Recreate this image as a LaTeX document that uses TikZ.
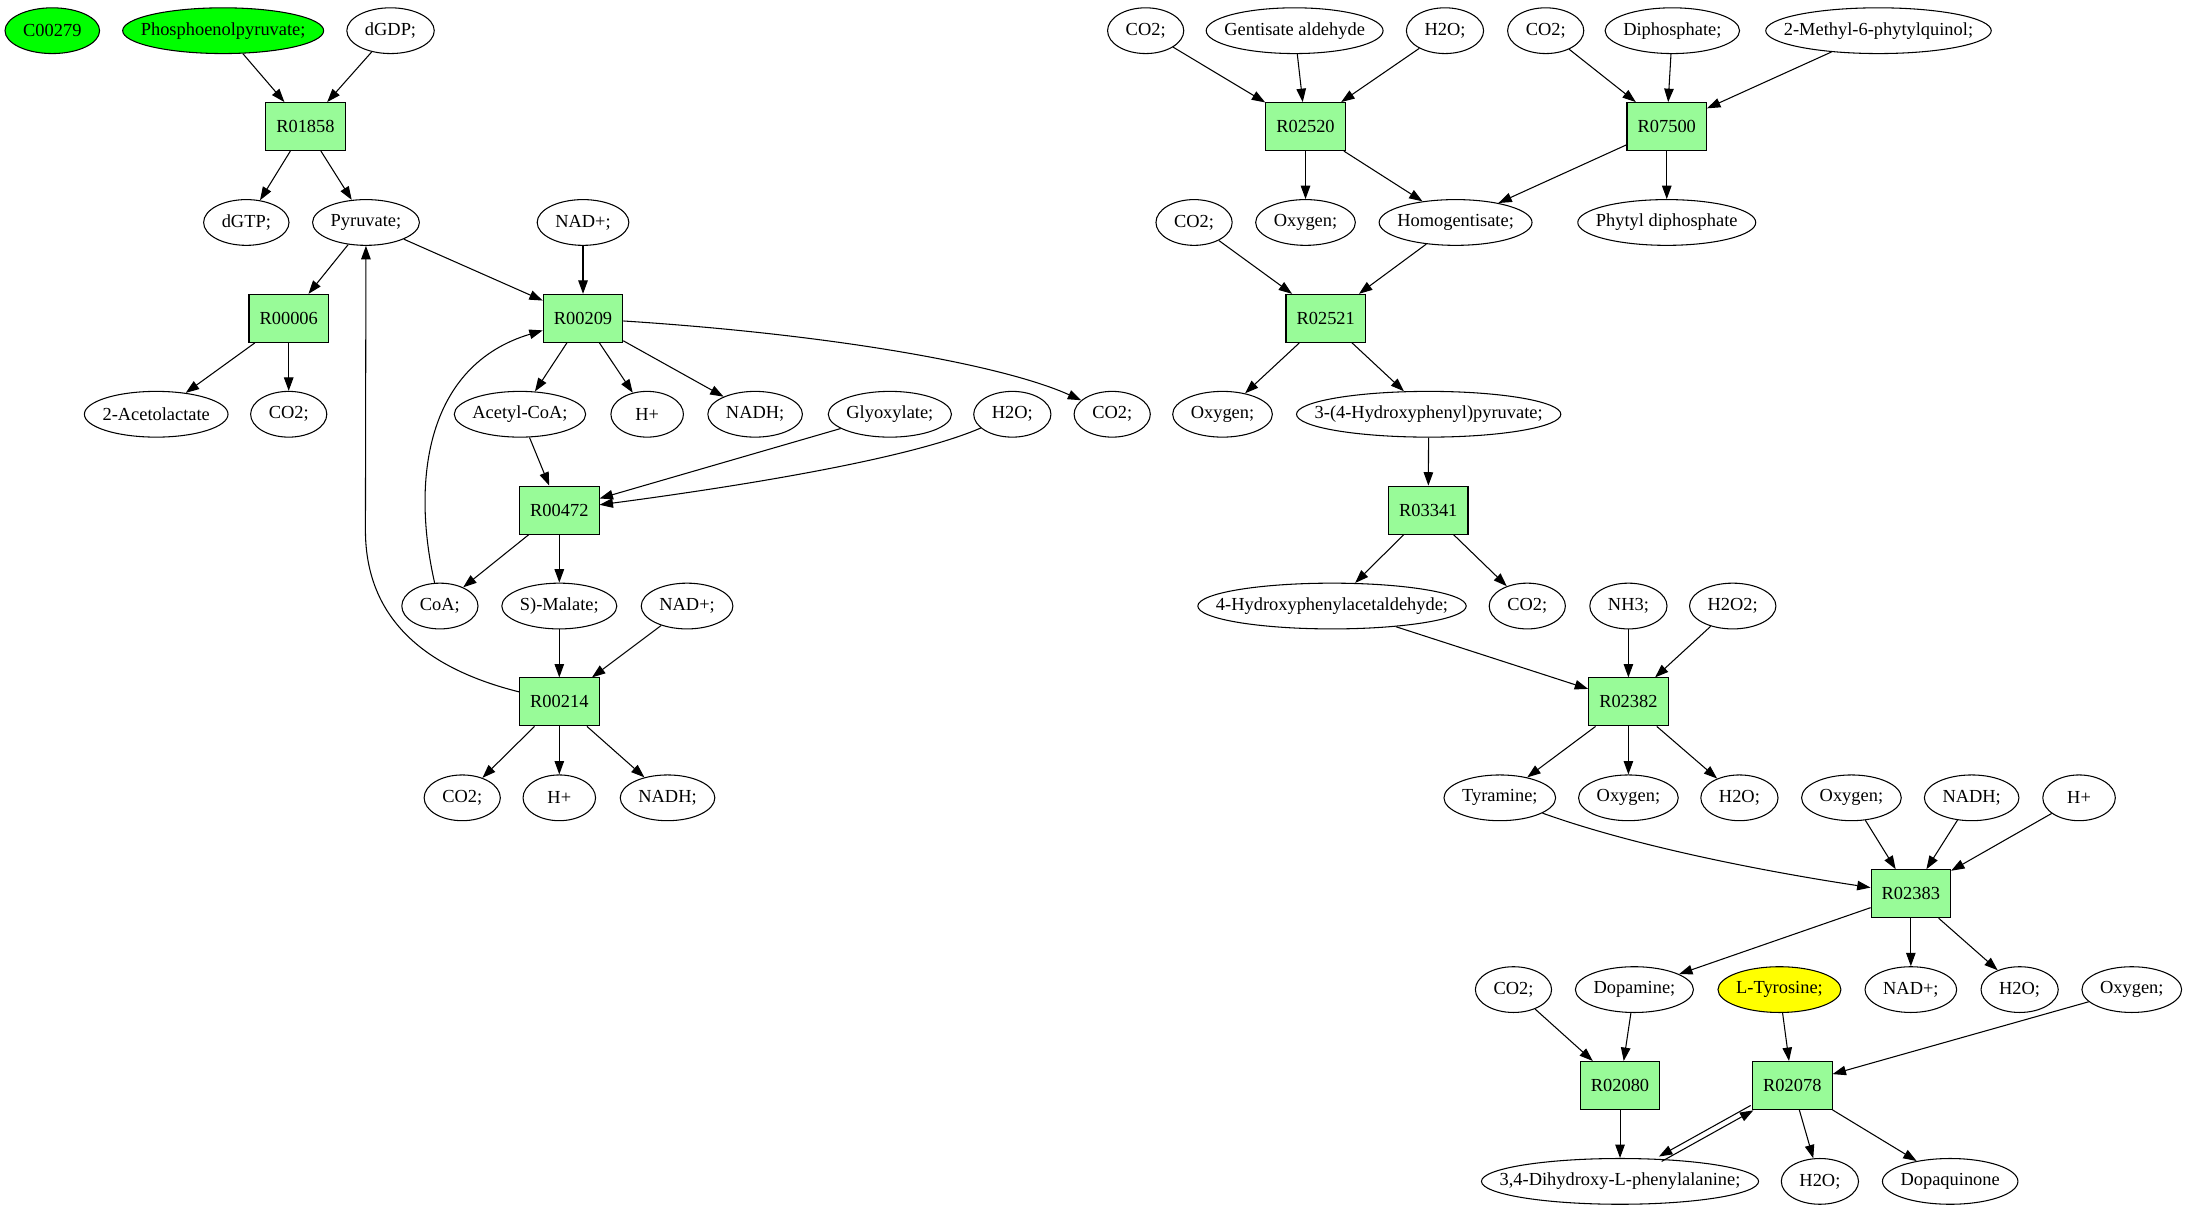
\documentclass[tikz,border=0pt]{standalone}
\usepackage{fontspec}
\setmainfont{Liberation Serif}
\usetikzlibrary{arrows.meta,positioning,shapes.geometric}

\definecolor{rxnfill}{HTML}{98FB98}
\definecolor{seedfill}{HTML}{00FF00}
\definecolor{goalfill}{HTML}{FFFF00}

\newsavebox{\cpdbox}
\newlength{\cpdwd}

\begin{document}
\begin{tikzpicture}[x=0.5pt,y=-0.5pt,node distance=34.375pt,on grid,
		font=\fontsize{6.6}{7.9}\selectfont,line width=0.38pt,
		>={Triangle[length=4.8pt,width=3.4pt]},
		rxn/.style={draw,rectangle,fill=rxnfill,minimum width=28.5pt,minimum height=17.2pt,inner sep=0pt},
		cpd/.style={draw,ellipse,minimum width=26pt,minimum height=16.4pt,inner sep=0pt,
			execute at begin node={\begin{lrbox}{\cpdbox}},
			execute at end node={\end{lrbox}\cpdwd=\wd\cpdbox\makebox[\dimexpr0.7071\cpdwd+9.2pt\relax]{\usebox{\cpdbox}}}},
		seed/.style={cpd,fill=seedfill},
		goal/.style={cpd,fill=goalfill}]
		\useasboundingbox (0,0) rectangle (1568,868);
		
		% reactions
		\node[rxn] (r01858) at (219,90.75) {R01858};
		\node[rxn] (r00006) at (207,228.25) {R00006};
		\node[rxn] (r00209) at (418,228.25) {R00209};
		\node[rxn] (r00472) at (401,365.75) {R00472};
		\node[rxn] (r00214) at (401,503.25) {R00214};
		\node[rxn] (r02520) at (936,90.75) {R02520};
		\node[rxn] (r07500) at (1195,90.75) {R07500};
		\node[rxn] (r02521) at (950.5,228.25) {R02521};
		\node[rxn] (r03341) at (1024,365.75) {R03341};
		\node[rxn] (r02382) at (1167.5,503.25) {R02382};
		\node[rxn] (r02383) at (1370,640.75) {R02383};
		\node[rxn] (r02080) at (1161.5,778.25) {R02080};
		\node[rxn] (r02078) at (1285,778.25) {R02078};
		
		% left part
		\node[seed] (phos) [above=of r01858, xshift=-29.5pt] {Phosphoenolpyruvate;};
		\node[seed] (c00279) [left=61.25pt of phos] {C00279};
		\node[cpd] (dgdp) [above=of r01858, xshift=30.5pt] {dGDP;};
		\node[cpd] (dgtp) [below=of r01858, xshift=-21.2pt] {dGTP;};
		\node[cpd] (pyr) [below=of r01858, xshift=21.7pt] {Pyruvate;};
		\node[cpd] (acetol) [below=of r00006, xshift=-47.5pt] {2-Acetolactate};
		\node[cpd] (co2a) [below=of r00006] {CO2;};
		\node[cpd] (nad1) [above=of r00209] {NAD+;};
		\node[cpd] (acoa) [below=of r00209, xshift=-22.6pt] {Acetyl-CoA;};
		\node[cpd] (hp1) [below=of r00209, xshift=23pt] {H+};
		\node[cpd] (nadh1) [below=of r00209, xshift=61.7pt] {NADH;};
		\node[cpd] (co2b) [below=of r00209, xshift=189.7pt] {CO2;};
		\node[cpd] (glyox) [above=of r00472, xshift=118.5pt] {Glyoxylate;};
		\node[cpd] (h2oa) [above=of r00472, xshift=162.4pt] {H2O;};
		\node[cpd] (coa) [below=of r00472, xshift=-42.8pt] {CoA;};
		\node[cpd] (malate) [below=of r00472] {S)-Malate;};
		\node[cpd] (nad2) [above=of r00214, xshift=45.8pt] {NAD+;};
		\node[cpd] (co2c) [below=of r00214, xshift=-34.8pt] {CO2;};
		\node[cpd] (hp2) [below=of r00214] {H+};
		\node[cpd] (nadh2) [below=of r00214, xshift=38.8pt] {NADH;};
		
		% right part
		\node[cpd] (co2d) [above=of r02520, xshift=-57.3pt] {CO2;};
		\node[cpd] (gent) [above=of r02520, xshift=-3.9pt] {Gentisate aldehyde};
		\node[cpd] (h2ob) [above=of r02520, xshift=50pt] {H2O;};
		\node[cpd] (oxy1) [below=of r02520] {Oxygen;};
		\node[cpd] (homog) [below=of r02520, xshift=53.8pt] {Homogentisate;};
		\node[cpd] (co2e) [above=of r07500, xshift=-43.4pt] {CO2;};
		\node[cpd] (diph) [above=of r07500, xshift=2pt] {Diphosphate;};
		\node[cpd] (methyl) [above=of r07500, xshift=75.9pt] {2-Methyl-6-phytylquinol;};
		\node[cpd] (phytyl) [below=of r07500] {Phytyl diphosphate};
		\node[cpd] (co2f) [above=of r02521, xshift=-47.2pt] {CO2;};
		\node[cpd] (oxy2) [below=of r02521, xshift=-37pt] {Oxygen;};
		\node[cpd] (hpp) [below=of r02521, xshift=36.9pt] {3-(4-Hydroxyphenyl)pyruvate;};
		\node[cpd] (hpa) [below=of r03341, xshift=-34.5pt] {4-Hydroxyphenylacetaldehyde;};
		\node[cpd] (co2g) [below=of r03341, xshift=35.5pt] {CO2;};
		\node[cpd] (nh3) [above=of r02382] {NH3;};
		\node[cpd] (h2o2) [above=of r02382, xshift=37.4pt] {H2O2;};
		\node[cpd] (tyr) [below=of r02382, xshift=-46.1pt] {Tyramine;};
		\node[cpd] (oxy3) [below=of r02382] {Oxygen;};
		\node[cpd] (h2oc) [below=of r02382, xshift=39.8pt] {H2O;};
		\node[cpd] (oxy4) [above=of r02383, xshift=-21.3pt] {Oxygen;};
		\node[cpd] (nadh3) [above=of r02383, xshift=21.8pt] {NADH;};
		\node[cpd] (hp3) [above=of r02383, xshift=60.3pt] {H+};
		\node[cpd] (dopamine) [below=of r02383, xshift=-99.1pt] {Dopamine;};
		\node[cpd] (nad3) [below=of r02383] {NAD+;};
		\node[cpd] (h2od) [below=of r02383, xshift=39pt] {H2O;};
		\node[cpd] (co2h) [above=of r02080, xshift=-38.2pt] {CO2;};
		\node[cpd] (dopa) [below=of r02080] {3,4-Dihydroxy-L-phenylalanine;};
		\node[goal] (ltyr) [above=of r02078, xshift=-4.6pt] {L-Tyrosine;};
		\node[cpd] (oxy5) [above=of r02078, xshift=121.7pt] {Oxygen;};
		\node[cpd] (h2oe) [below=of r02078, xshift=9.9pt] {H2O;};
		\node[cpd] (dopaq) [below=of r02078, xshift=56.6pt] {Dopaquinone};
		
		\path[->]
		(phos) edge (r01858)
		(dgdp) edge (r01858)
		(r01858) edge (dgtp)
			 edge (pyr)
		(pyr) edge (r00006)
			 edge (r00209)
		(r00006) edge (acetol)
			 edge (co2a)
		(nad1) edge (r00209)
		(r00209) edge (acoa)
			 edge (hp1)
			 edge (nadh1)
		(acoa) edge (r00472)
		(glyox) edge (r00472)
		(r00472) edge (coa)
			 edge (malate)
		(malate) edge (r00214)
		(nad2) edge (r00214)
		(r00214) edge (co2c)
			 edge (hp2)
			 edge (nadh2)
		
		(co2d) edge (r02520)
		(gent) edge (r02520)
		(h2ob) edge (r02520)
		(r02520) edge (oxy1)
			 edge (homog)
		(co2e) edge (r07500)
		(diph) edge (r07500)
		(methyl) edge (r07500)
		(r07500) edge (homog)
			 edge (phytyl)
		(co2f) edge (r02521)
		(homog) edge (r02521)
		(r02521) edge (oxy2)
			 edge (hpp)
		(hpp) edge (r03341)
		(r03341) edge (hpa)
			 edge (co2g)
		(hpa) edge (r02382)
		(nh3) edge (r02382)
		(h2o2) edge (r02382)
		(r02382) edge (tyr)
			 edge (oxy3)
			 edge (h2oc)
		(oxy4) edge (r02383)
		(nadh3) edge (r02383)
		(hp3) edge (r02383)
		(r02383) edge (dopamine)
			 edge (nad3)
			 edge (h2od)
		(co2h) edge (r02080)
		(dopamine) edge (r02080)
		(r02080) edge (dopa)
		(ltyr) edge (r02078)
		(oxy5) edge (r02078)
		(r02078) edge (h2oe)
			 edge (dopaq);
		
		% curved connectors
		\draw[->] (coa) .. controls (295,345) and (305,262) .. (r00209);
		\draw[->] (r00214) .. controls (300,478) and (262,440) .. (262,380) -- (pyr);
		\draw[->] (r00209) .. controls (600,240) and (720,262) .. (co2b);
		\draw[->] (h2oa) .. controls (650,330) and (520,350) .. (r00472);
		\draw[->] (tyr) .. controls (1170,606) and (1260,624) .. (r02383);
		
		% both ways
		\draw[->,transform canvas={shift={(-0.97,-1.75)}}] (r02078) -- (dopa);
		\draw[->,transform canvas={shift={(0.97,1.75)}}] (dopa) -- (r02078);
	\end{tikzpicture}
\end{document}
